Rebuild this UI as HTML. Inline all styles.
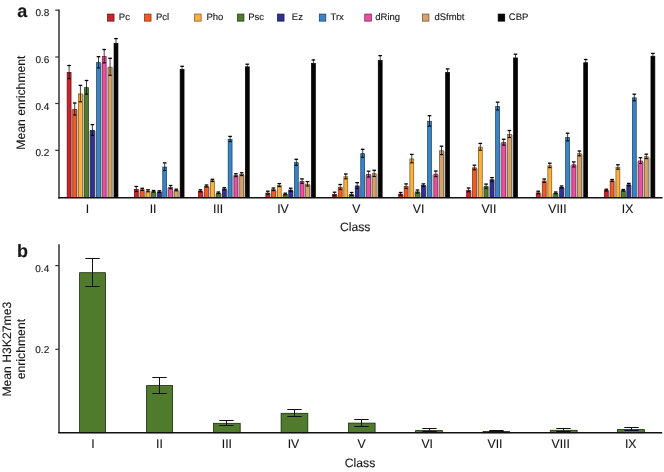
<!DOCTYPE html>
<html><head><meta charset="utf-8"><style>
html,body{margin:0;padding:0;background:#fff;}
body{width:664px;height:472px;overflow:hidden;}
svg{display:block;will-change:transform;font-family:"Liberation Sans",sans-serif;fill:#222;}
svg text{text-rendering:geometricPrecision;fill:#181818;stroke:#181818;stroke-width:0.12px;}
</style></head><body>
<svg width="664" height="472" viewBox="0 0 664 472">
<rect x="0" y="0" width="664" height="472" fill="#fff"/>
<rect x="71.40" y="110.00" width="1.00" height="87.70" fill="#c2c4c4"/>
<rect x="77.00" y="110.00" width="1.10" height="87.70" fill="#c2c4c4"/>
<rect x="82.70" y="94.60" width="1.50" height="103.10" fill="#c2c4c4"/>
<rect x="88.80" y="131.00" width="1.30" height="66.70" fill="#c2c4c4"/>
<rect x="94.70" y="131.00" width="1.50" height="66.70" fill="#c2c4c4"/>
<rect x="100.80" y="63.30" width="1.10" height="134.40" fill="#c2c4c4"/>
<rect x="106.50" y="67.80" width="1.30" height="129.90" fill="#c2c4c4"/>
<rect x="112.40" y="67.80" width="1.30" height="129.90" fill="#c2c4c4"/>
<rect x="67.15" y="72.45" width="3.90" height="125.25" fill="#cc2229" stroke="#5a0c10" stroke-width="0.7"/>
<rect x="72.75" y="109.35" width="3.90" height="88.35" fill="#f15a22" stroke="#7a2a0c" stroke-width="0.7"/>
<rect x="78.45" y="93.95" width="3.90" height="103.75" fill="#fbb040" stroke="#7a5518" stroke-width="0.7"/>
<rect x="84.55" y="87.65" width="3.90" height="110.05" fill="#4f7b2b" stroke="#1f3510" stroke-width="0.7"/>
<rect x="90.45" y="130.35" width="3.90" height="67.35" fill="#2e3192" stroke="#14163f" stroke-width="0.7"/>
<rect x="96.55" y="62.65" width="3.90" height="135.05" fill="#3a83c6" stroke="#183c5c" stroke-width="0.7"/>
<rect x="102.25" y="56.55" width="3.90" height="141.15" fill="#ec4ea2" stroke="#6e2149" stroke-width="0.7"/>
<rect x="108.15" y="67.15" width="3.90" height="130.55" fill="#d6a36b" stroke="#684e30" stroke-width="0.7"/>
<rect x="114.05" y="43.35" width="3.90" height="154.35" fill="#050505" stroke="#000000" stroke-width="0.7"/>
<line x1="69.10" y1="65.50" x2="69.10" y2="78.70" stroke="#111" stroke-width="0.8"/>
<line x1="67.30" y1="65.50" x2="70.90" y2="65.50" stroke="#000" stroke-width="1.3"/>
<line x1="67.50" y1="78.70" x2="70.70" y2="78.70" stroke="#000" stroke-width="1.1"/>
<line x1="74.70" y1="103.00" x2="74.70" y2="115.00" stroke="#111" stroke-width="0.8"/>
<line x1="72.90" y1="103.00" x2="76.50" y2="103.00" stroke="#000" stroke-width="1.3"/>
<line x1="73.10" y1="115.00" x2="76.30" y2="115.00" stroke="#000" stroke-width="1.1"/>
<line x1="80.40" y1="85.40" x2="80.40" y2="101.80" stroke="#111" stroke-width="0.8"/>
<line x1="78.60" y1="85.40" x2="82.20" y2="85.40" stroke="#000" stroke-width="1.3"/>
<line x1="78.80" y1="101.80" x2="82.00" y2="101.80" stroke="#000" stroke-width="1.1"/>
<line x1="86.50" y1="80.50" x2="86.50" y2="94.10" stroke="#111" stroke-width="0.8"/>
<line x1="84.70" y1="80.50" x2="88.30" y2="80.50" stroke="#000" stroke-width="1.3"/>
<line x1="84.90" y1="94.10" x2="88.10" y2="94.10" stroke="#000" stroke-width="1.1"/>
<line x1="92.40" y1="124.60" x2="92.40" y2="135.40" stroke="#111" stroke-width="0.8"/>
<line x1="90.60" y1="124.60" x2="94.20" y2="124.60" stroke="#000" stroke-width="1.3"/>
<line x1="90.80" y1="135.40" x2="94.00" y2="135.40" stroke="#000" stroke-width="1.1"/>
<line x1="98.50" y1="56.70" x2="98.50" y2="67.90" stroke="#111" stroke-width="0.8"/>
<line x1="96.70" y1="56.70" x2="100.30" y2="56.70" stroke="#000" stroke-width="1.3"/>
<line x1="96.90" y1="67.90" x2="100.10" y2="67.90" stroke="#000" stroke-width="1.1"/>
<line x1="104.20" y1="49.50" x2="104.20" y2="62.90" stroke="#111" stroke-width="0.8"/>
<line x1="102.40" y1="49.50" x2="106.00" y2="49.50" stroke="#000" stroke-width="1.3"/>
<line x1="102.60" y1="62.90" x2="105.80" y2="62.90" stroke="#000" stroke-width="1.1"/>
<line x1="110.10" y1="58.30" x2="110.10" y2="75.30" stroke="#111" stroke-width="0.8"/>
<line x1="108.30" y1="58.30" x2="111.90" y2="58.30" stroke="#000" stroke-width="1.3"/>
<line x1="108.50" y1="75.30" x2="111.70" y2="75.30" stroke="#000" stroke-width="1.1"/>
<line x1="116.00" y1="38.60" x2="116.00" y2="47.40" stroke="#111" stroke-width="0.8"/>
<line x1="114.20" y1="38.60" x2="117.80" y2="38.60" stroke="#000" stroke-width="1.3"/>
<line x1="114.40" y1="47.40" x2="117.60" y2="47.40" stroke="#000" stroke-width="1.1"/>
<rect x="138.60" y="190.40" width="1.30" height="7.30" fill="#c2c4c4"/>
<rect x="144.50" y="191.80" width="1.20" height="5.90" fill="#c2c4c4"/>
<rect x="150.30" y="192.30" width="1.00" height="5.40" fill="#c2c4c4"/>
<rect x="155.90" y="192.60" width="1.20" height="5.10" fill="#c2c4c4"/>
<rect x="161.70" y="192.60" width="0.70" height="5.10" fill="#c2c4c4"/>
<rect x="167.00" y="188.10" width="1.30" height="9.60" fill="#c2c4c4"/>
<rect x="172.90" y="191.00" width="1.00" height="6.70" fill="#c2c4c4"/>
<rect x="178.50" y="191.00" width="1.30" height="6.70" fill="#c2c4c4"/>
<rect x="134.35" y="189.35" width="3.90" height="8.35" fill="#cc2229" stroke="#5a0c10" stroke-width="0.7"/>
<rect x="140.25" y="189.75" width="3.90" height="7.95" fill="#f15a22" stroke="#7a2a0c" stroke-width="0.7"/>
<rect x="146.05" y="191.15" width="3.90" height="6.55" fill="#fbb040" stroke="#7a5518" stroke-width="0.7"/>
<rect x="151.65" y="191.65" width="3.90" height="6.05" fill="#4f7b2b" stroke="#1f3510" stroke-width="0.7"/>
<rect x="157.45" y="191.95" width="3.90" height="5.75" fill="#2e3192" stroke="#14163f" stroke-width="0.7"/>
<rect x="162.75" y="167.05" width="3.90" height="30.65" fill="#3a83c6" stroke="#183c5c" stroke-width="0.7"/>
<rect x="168.65" y="187.45" width="3.90" height="10.25" fill="#ec4ea2" stroke="#6e2149" stroke-width="0.7"/>
<rect x="174.25" y="190.35" width="3.90" height="7.35" fill="#d6a36b" stroke="#684e30" stroke-width="0.7"/>
<rect x="180.15" y="69.35" width="3.90" height="128.35" fill="#050505" stroke="#000000" stroke-width="0.7"/>
<line x1="136.30" y1="186.50" x2="136.30" y2="191.50" stroke="#111" stroke-width="0.8"/>
<line x1="134.50" y1="186.50" x2="138.10" y2="186.50" stroke="#000" stroke-width="1.3"/>
<line x1="134.70" y1="191.50" x2="137.90" y2="191.50" stroke="#000" stroke-width="1.1"/>
<line x1="142.20" y1="188.30" x2="142.20" y2="190.50" stroke="#111" stroke-width="0.8"/>
<line x1="140.40" y1="188.30" x2="144.00" y2="188.30" stroke="#000" stroke-width="1.3"/>
<line x1="140.60" y1="190.50" x2="143.80" y2="190.50" stroke="#000" stroke-width="1.1"/>
<line x1="148.00" y1="189.80" x2="148.00" y2="191.80" stroke="#111" stroke-width="0.8"/>
<line x1="146.20" y1="189.80" x2="149.80" y2="189.80" stroke="#000" stroke-width="1.3"/>
<line x1="146.40" y1="191.80" x2="149.60" y2="191.80" stroke="#000" stroke-width="1.1"/>
<line x1="153.60" y1="190.50" x2="153.60" y2="192.10" stroke="#111" stroke-width="0.8"/>
<line x1="151.80" y1="190.50" x2="155.40" y2="190.50" stroke="#000" stroke-width="1.3"/>
<line x1="152.00" y1="192.10" x2="155.20" y2="192.10" stroke="#000" stroke-width="1.1"/>
<line x1="159.40" y1="190.80" x2="159.40" y2="192.40" stroke="#111" stroke-width="0.8"/>
<line x1="157.60" y1="190.80" x2="161.20" y2="190.80" stroke="#000" stroke-width="1.3"/>
<line x1="157.80" y1="192.40" x2="161.00" y2="192.40" stroke="#000" stroke-width="1.1"/>
<line x1="164.70" y1="162.90" x2="164.70" y2="170.50" stroke="#111" stroke-width="0.8"/>
<line x1="162.90" y1="162.90" x2="166.50" y2="162.90" stroke="#000" stroke-width="1.3"/>
<line x1="163.10" y1="170.50" x2="166.30" y2="170.50" stroke="#000" stroke-width="1.1"/>
<line x1="170.60" y1="185.50" x2="170.60" y2="188.70" stroke="#111" stroke-width="0.8"/>
<line x1="168.80" y1="185.50" x2="172.40" y2="185.50" stroke="#000" stroke-width="1.3"/>
<line x1="169.00" y1="188.70" x2="172.20" y2="188.70" stroke="#000" stroke-width="1.1"/>
<line x1="176.20" y1="189.20" x2="176.20" y2="190.80" stroke="#111" stroke-width="0.8"/>
<line x1="174.40" y1="189.20" x2="178.00" y2="189.20" stroke="#000" stroke-width="1.3"/>
<line x1="174.60" y1="190.80" x2="177.80" y2="190.80" stroke="#000" stroke-width="1.1"/>
<line x1="182.10" y1="66.30" x2="182.10" y2="71.70" stroke="#111" stroke-width="0.8"/>
<line x1="180.30" y1="66.30" x2="183.90" y2="66.30" stroke="#000" stroke-width="1.3"/>
<line x1="180.50" y1="71.70" x2="183.70" y2="71.70" stroke="#000" stroke-width="1.1"/>
<rect x="202.70" y="191.80" width="1.50" height="5.90" fill="#c2c4c4"/>
<rect x="208.80" y="187.00" width="1.30" height="10.70" fill="#c2c4c4"/>
<rect x="214.70" y="193.80" width="1.40" height="3.90" fill="#c2c4c4"/>
<rect x="220.70" y="193.80" width="1.30" height="3.90" fill="#c2c4c4"/>
<rect x="226.60" y="189.60" width="1.20" height="8.10" fill="#c2c4c4"/>
<rect x="232.40" y="176.20" width="1.20" height="21.50" fill="#c2c4c4"/>
<rect x="238.20" y="176.20" width="1.20" height="21.50" fill="#c2c4c4"/>
<rect x="244.00" y="175.20" width="1.00" height="22.50" fill="#c2c4c4"/>
<rect x="198.45" y="191.15" width="3.90" height="6.55" fill="#cc2229" stroke="#5a0c10" stroke-width="0.7"/>
<rect x="204.55" y="186.35" width="3.90" height="11.35" fill="#f15a22" stroke="#7a2a0c" stroke-width="0.7"/>
<rect x="210.45" y="180.75" width="3.90" height="16.95" fill="#fbb040" stroke="#7a5518" stroke-width="0.7"/>
<rect x="216.45" y="193.15" width="3.90" height="4.55" fill="#4f7b2b" stroke="#1f3510" stroke-width="0.7"/>
<rect x="222.35" y="188.95" width="3.90" height="8.75" fill="#2e3192" stroke="#14163f" stroke-width="0.7"/>
<rect x="228.15" y="139.35" width="3.90" height="58.35" fill="#3a83c6" stroke="#183c5c" stroke-width="0.7"/>
<rect x="233.95" y="175.55" width="3.90" height="22.15" fill="#ec4ea2" stroke="#6e2149" stroke-width="0.7"/>
<rect x="239.75" y="174.55" width="3.90" height="23.15" fill="#d6a36b" stroke="#684e30" stroke-width="0.7"/>
<rect x="245.35" y="66.85" width="3.90" height="130.85" fill="#050505" stroke="#000000" stroke-width="0.7"/>
<line x1="200.40" y1="189.80" x2="200.40" y2="191.80" stroke="#111" stroke-width="0.8"/>
<line x1="198.60" y1="189.80" x2="202.20" y2="189.80" stroke="#000" stroke-width="1.3"/>
<line x1="198.80" y1="191.80" x2="202.00" y2="191.80" stroke="#000" stroke-width="1.1"/>
<line x1="206.50" y1="185.00" x2="206.50" y2="187.00" stroke="#111" stroke-width="0.8"/>
<line x1="204.70" y1="185.00" x2="208.30" y2="185.00" stroke="#000" stroke-width="1.3"/>
<line x1="204.90" y1="187.00" x2="208.10" y2="187.00" stroke="#000" stroke-width="1.1"/>
<line x1="212.40" y1="179.30" x2="212.40" y2="181.50" stroke="#111" stroke-width="0.8"/>
<line x1="210.60" y1="179.30" x2="214.20" y2="179.30" stroke="#000" stroke-width="1.3"/>
<line x1="210.80" y1="181.50" x2="214.00" y2="181.50" stroke="#000" stroke-width="1.1"/>
<line x1="218.40" y1="192.00" x2="218.40" y2="193.60" stroke="#111" stroke-width="0.8"/>
<line x1="216.60" y1="192.00" x2="220.20" y2="192.00" stroke="#000" stroke-width="1.3"/>
<line x1="216.80" y1="193.60" x2="220.00" y2="193.60" stroke="#000" stroke-width="1.1"/>
<line x1="224.30" y1="187.60" x2="224.30" y2="189.60" stroke="#111" stroke-width="0.8"/>
<line x1="222.50" y1="187.60" x2="226.10" y2="187.60" stroke="#000" stroke-width="1.3"/>
<line x1="222.70" y1="189.60" x2="225.90" y2="189.60" stroke="#000" stroke-width="1.1"/>
<line x1="230.10" y1="136.40" x2="230.10" y2="141.60" stroke="#111" stroke-width="0.8"/>
<line x1="228.30" y1="136.40" x2="231.90" y2="136.40" stroke="#000" stroke-width="1.3"/>
<line x1="228.50" y1="141.60" x2="231.70" y2="141.60" stroke="#000" stroke-width="1.1"/>
<line x1="235.90" y1="173.80" x2="235.90" y2="176.60" stroke="#111" stroke-width="0.8"/>
<line x1="234.10" y1="173.80" x2="237.70" y2="173.80" stroke="#000" stroke-width="1.3"/>
<line x1="234.30" y1="176.60" x2="237.50" y2="176.60" stroke="#000" stroke-width="1.1"/>
<line x1="241.70" y1="172.80" x2="241.70" y2="175.60" stroke="#111" stroke-width="0.8"/>
<line x1="239.90" y1="172.80" x2="243.50" y2="172.80" stroke="#000" stroke-width="1.3"/>
<line x1="240.10" y1="175.60" x2="243.30" y2="175.60" stroke="#000" stroke-width="1.1"/>
<line x1="247.30" y1="64.20" x2="247.30" y2="68.80" stroke="#111" stroke-width="0.8"/>
<line x1="245.50" y1="64.20" x2="249.10" y2="64.20" stroke="#000" stroke-width="1.3"/>
<line x1="245.70" y1="68.80" x2="248.90" y2="68.80" stroke="#000" stroke-width="1.1"/>
<rect x="270.10" y="193.70" width="1.00" height="4.00" fill="#c2c4c4"/>
<rect x="275.70" y="190.30" width="1.30" height="7.40" fill="#c2c4c4"/>
<rect x="281.60" y="195.00" width="1.40" height="2.70" fill="#c2c4c4"/>
<rect x="287.60" y="195.00" width="0.80" height="2.70" fill="#c2c4c4"/>
<rect x="293.00" y="190.70" width="1.00" height="7.00" fill="#c2c4c4"/>
<rect x="298.60" y="182.10" width="1.10" height="15.60" fill="#c2c4c4"/>
<rect x="304.30" y="184.80" width="0.90" height="12.90" fill="#c2c4c4"/>
<rect x="309.80" y="184.80" width="1.30" height="12.90" fill="#c2c4c4"/>
<rect x="265.85" y="193.05" width="3.90" height="4.65" fill="#cc2229" stroke="#5a0c10" stroke-width="0.7"/>
<rect x="271.45" y="189.65" width="3.90" height="8.05" fill="#f15a22" stroke="#7a2a0c" stroke-width="0.7"/>
<rect x="277.35" y="185.45" width="3.90" height="12.25" fill="#fbb040" stroke="#7a5518" stroke-width="0.7"/>
<rect x="283.35" y="194.35" width="3.90" height="3.35" fill="#4f7b2b" stroke="#1f3510" stroke-width="0.7"/>
<rect x="288.75" y="190.05" width="3.90" height="7.65" fill="#2e3192" stroke="#14163f" stroke-width="0.7"/>
<rect x="294.35" y="162.65" width="3.90" height="35.05" fill="#3a83c6" stroke="#183c5c" stroke-width="0.7"/>
<rect x="300.05" y="181.45" width="3.90" height="16.25" fill="#ec4ea2" stroke="#6e2149" stroke-width="0.7"/>
<rect x="305.55" y="184.15" width="3.90" height="13.55" fill="#d6a36b" stroke="#684e30" stroke-width="0.7"/>
<rect x="311.45" y="63.35" width="3.90" height="134.35" fill="#050505" stroke="#000000" stroke-width="0.7"/>
<line x1="267.80" y1="191.20" x2="267.80" y2="194.20" stroke="#111" stroke-width="0.8"/>
<line x1="266.00" y1="191.20" x2="269.60" y2="191.20" stroke="#000" stroke-width="1.3"/>
<line x1="266.20" y1="194.20" x2="269.40" y2="194.20" stroke="#000" stroke-width="1.1"/>
<line x1="273.40" y1="188.00" x2="273.40" y2="190.60" stroke="#111" stroke-width="0.8"/>
<line x1="271.60" y1="188.00" x2="275.20" y2="188.00" stroke="#000" stroke-width="1.3"/>
<line x1="271.80" y1="190.60" x2="275.00" y2="190.60" stroke="#000" stroke-width="1.1"/>
<line x1="279.30" y1="183.60" x2="279.30" y2="186.60" stroke="#111" stroke-width="0.8"/>
<line x1="277.50" y1="183.60" x2="281.10" y2="183.60" stroke="#000" stroke-width="1.3"/>
<line x1="277.70" y1="186.60" x2="280.90" y2="186.60" stroke="#000" stroke-width="1.1"/>
<line x1="285.30" y1="193.20" x2="285.30" y2="194.80" stroke="#111" stroke-width="0.8"/>
<line x1="283.50" y1="193.20" x2="287.10" y2="193.20" stroke="#000" stroke-width="1.3"/>
<line x1="283.70" y1="194.80" x2="286.90" y2="194.80" stroke="#000" stroke-width="1.1"/>
<line x1="290.70" y1="188.20" x2="290.70" y2="191.20" stroke="#111" stroke-width="0.8"/>
<line x1="288.90" y1="188.20" x2="292.50" y2="188.20" stroke="#000" stroke-width="1.3"/>
<line x1="289.10" y1="191.20" x2="292.30" y2="191.20" stroke="#000" stroke-width="1.1"/>
<line x1="296.30" y1="159.30" x2="296.30" y2="165.30" stroke="#111" stroke-width="0.8"/>
<line x1="294.50" y1="159.30" x2="298.10" y2="159.30" stroke="#000" stroke-width="1.3"/>
<line x1="294.70" y1="165.30" x2="297.90" y2="165.30" stroke="#000" stroke-width="1.1"/>
<line x1="302.00" y1="178.90" x2="302.00" y2="183.30" stroke="#111" stroke-width="0.8"/>
<line x1="300.20" y1="178.90" x2="303.80" y2="178.90" stroke="#000" stroke-width="1.3"/>
<line x1="300.40" y1="183.30" x2="303.60" y2="183.30" stroke="#000" stroke-width="1.1"/>
<line x1="307.50" y1="181.60" x2="307.50" y2="186.00" stroke="#111" stroke-width="0.8"/>
<line x1="305.70" y1="181.60" x2="309.30" y2="181.60" stroke="#000" stroke-width="1.3"/>
<line x1="305.90" y1="186.00" x2="309.10" y2="186.00" stroke="#000" stroke-width="1.1"/>
<line x1="313.40" y1="59.90" x2="313.40" y2="66.10" stroke="#111" stroke-width="0.8"/>
<line x1="311.60" y1="59.90" x2="315.20" y2="59.90" stroke="#000" stroke-width="1.3"/>
<line x1="311.80" y1="66.10" x2="315.00" y2="66.10" stroke="#000" stroke-width="1.1"/>
<rect x="336.80" y="195.00" width="1.10" height="2.70" fill="#c2c4c4"/>
<rect x="342.50" y="188.00" width="1.00" height="9.70" fill="#c2c4c4"/>
<rect x="348.10" y="195.00" width="1.20" height="2.70" fill="#c2c4c4"/>
<rect x="353.90" y="195.00" width="1.00" height="2.70" fill="#c2c4c4"/>
<rect x="359.50" y="186.60" width="0.90" height="11.10" fill="#c2c4c4"/>
<rect x="365.00" y="175.10" width="1.30" height="22.60" fill="#c2c4c4"/>
<rect x="370.90" y="175.10" width="1.00" height="22.60" fill="#c2c4c4"/>
<rect x="376.50" y="174.40" width="1.40" height="23.30" fill="#c2c4c4"/>
<rect x="332.55" y="194.35" width="3.90" height="3.35" fill="#cc2229" stroke="#5a0c10" stroke-width="0.7"/>
<rect x="338.25" y="187.35" width="3.90" height="10.35" fill="#f15a22" stroke="#7a2a0c" stroke-width="0.7"/>
<rect x="343.85" y="176.75" width="3.90" height="20.95" fill="#fbb040" stroke="#7a5518" stroke-width="0.7"/>
<rect x="349.65" y="194.35" width="3.90" height="3.35" fill="#4f7b2b" stroke="#1f3510" stroke-width="0.7"/>
<rect x="355.25" y="185.95" width="3.90" height="11.75" fill="#2e3192" stroke="#14163f" stroke-width="0.7"/>
<rect x="360.75" y="153.65" width="3.90" height="44.05" fill="#3a83c6" stroke="#183c5c" stroke-width="0.7"/>
<rect x="366.65" y="174.45" width="3.90" height="23.25" fill="#ec4ea2" stroke="#6e2149" stroke-width="0.7"/>
<rect x="372.25" y="173.75" width="3.90" height="23.95" fill="#d6a36b" stroke="#684e30" stroke-width="0.7"/>
<rect x="378.25" y="60.35" width="3.90" height="137.35" fill="#050505" stroke="#000000" stroke-width="0.7"/>
<line x1="334.50" y1="192.20" x2="334.50" y2="195.80" stroke="#111" stroke-width="0.8"/>
<line x1="332.70" y1="192.20" x2="336.30" y2="192.20" stroke="#000" stroke-width="1.3"/>
<line x1="332.90" y1="195.80" x2="336.10" y2="195.80" stroke="#000" stroke-width="1.1"/>
<line x1="340.20" y1="184.50" x2="340.20" y2="189.50" stroke="#111" stroke-width="0.8"/>
<line x1="338.40" y1="184.50" x2="342.00" y2="184.50" stroke="#000" stroke-width="1.3"/>
<line x1="338.60" y1="189.50" x2="341.80" y2="189.50" stroke="#000" stroke-width="1.1"/>
<line x1="345.80" y1="174.00" x2="345.80" y2="178.80" stroke="#111" stroke-width="0.8"/>
<line x1="344.00" y1="174.00" x2="347.60" y2="174.00" stroke="#000" stroke-width="1.3"/>
<line x1="344.20" y1="178.80" x2="347.40" y2="178.80" stroke="#000" stroke-width="1.1"/>
<line x1="351.60" y1="192.50" x2="351.60" y2="195.50" stroke="#111" stroke-width="0.8"/>
<line x1="349.80" y1="192.50" x2="353.40" y2="192.50" stroke="#000" stroke-width="1.3"/>
<line x1="350.00" y1="195.50" x2="353.20" y2="195.50" stroke="#000" stroke-width="1.1"/>
<line x1="357.20" y1="182.70" x2="357.20" y2="188.50" stroke="#111" stroke-width="0.8"/>
<line x1="355.40" y1="182.70" x2="359.00" y2="182.70" stroke="#000" stroke-width="1.3"/>
<line x1="355.60" y1="188.50" x2="358.80" y2="188.50" stroke="#000" stroke-width="1.1"/>
<line x1="362.70" y1="149.30" x2="362.70" y2="157.30" stroke="#111" stroke-width="0.8"/>
<line x1="360.90" y1="149.30" x2="364.50" y2="149.30" stroke="#000" stroke-width="1.3"/>
<line x1="361.10" y1="157.30" x2="364.30" y2="157.30" stroke="#000" stroke-width="1.1"/>
<line x1="368.60" y1="171.20" x2="368.60" y2="177.00" stroke="#111" stroke-width="0.8"/>
<line x1="366.80" y1="171.20" x2="370.40" y2="171.20" stroke="#000" stroke-width="1.3"/>
<line x1="367.00" y1="177.00" x2="370.20" y2="177.00" stroke="#000" stroke-width="1.1"/>
<line x1="374.20" y1="170.30" x2="374.20" y2="176.50" stroke="#111" stroke-width="0.8"/>
<line x1="372.40" y1="170.30" x2="376.00" y2="170.30" stroke="#000" stroke-width="1.3"/>
<line x1="372.60" y1="176.50" x2="375.80" y2="176.50" stroke="#000" stroke-width="1.1"/>
<line x1="380.20" y1="55.60" x2="380.20" y2="64.40" stroke="#111" stroke-width="0.8"/>
<line x1="378.40" y1="55.60" x2="382.00" y2="55.60" stroke="#000" stroke-width="1.3"/>
<line x1="378.60" y1="64.40" x2="381.80" y2="64.40" stroke="#000" stroke-width="1.1"/>
<rect x="402.90" y="194.80" width="0.90" height="2.90" fill="#c2c4c4"/>
<rect x="408.40" y="187.20" width="1.10" height="10.50" fill="#c2c4c4"/>
<rect x="414.10" y="192.50" width="1.10" height="5.20" fill="#c2c4c4"/>
<rect x="419.80" y="192.50" width="1.30" height="5.20" fill="#c2c4c4"/>
<rect x="425.70" y="186.20" width="1.50" height="11.50" fill="#c2c4c4"/>
<rect x="431.80" y="174.80" width="1.70" height="22.90" fill="#c2c4c4"/>
<rect x="438.10" y="174.80" width="1.10" height="22.90" fill="#c2c4c4"/>
<rect x="443.80" y="151.40" width="1.50" height="46.30" fill="#c2c4c4"/>
<rect x="398.65" y="194.15" width="3.90" height="3.55" fill="#cc2229" stroke="#5a0c10" stroke-width="0.7"/>
<rect x="404.15" y="186.55" width="3.90" height="11.15" fill="#f15a22" stroke="#7a2a0c" stroke-width="0.7"/>
<rect x="409.85" y="158.95" width="3.90" height="38.75" fill="#fbb040" stroke="#7a5518" stroke-width="0.7"/>
<rect x="415.55" y="191.85" width="3.90" height="5.85" fill="#4f7b2b" stroke="#1f3510" stroke-width="0.7"/>
<rect x="421.45" y="185.55" width="3.90" height="12.15" fill="#2e3192" stroke="#14163f" stroke-width="0.7"/>
<rect x="427.55" y="121.25" width="3.90" height="76.45" fill="#3a83c6" stroke="#183c5c" stroke-width="0.7"/>
<rect x="433.85" y="174.15" width="3.90" height="23.55" fill="#ec4ea2" stroke="#6e2149" stroke-width="0.7"/>
<rect x="439.55" y="150.75" width="3.90" height="46.95" fill="#d6a36b" stroke="#684e30" stroke-width="0.7"/>
<rect x="445.65" y="72.45" width="3.90" height="125.25" fill="#050505" stroke="#000000" stroke-width="0.7"/>
<line x1="400.60" y1="192.50" x2="400.60" y2="195.10" stroke="#111" stroke-width="0.8"/>
<line x1="398.80" y1="192.50" x2="402.40" y2="192.50" stroke="#000" stroke-width="1.3"/>
<line x1="399.00" y1="195.10" x2="402.20" y2="195.10" stroke="#000" stroke-width="1.1"/>
<line x1="406.10" y1="183.90" x2="406.10" y2="188.50" stroke="#111" stroke-width="0.8"/>
<line x1="404.30" y1="183.90" x2="407.90" y2="183.90" stroke="#000" stroke-width="1.3"/>
<line x1="404.50" y1="188.50" x2="407.70" y2="188.50" stroke="#000" stroke-width="1.1"/>
<line x1="411.80" y1="154.40" x2="411.80" y2="162.80" stroke="#111" stroke-width="0.8"/>
<line x1="410.00" y1="154.40" x2="413.60" y2="154.40" stroke="#000" stroke-width="1.3"/>
<line x1="410.20" y1="162.80" x2="413.40" y2="162.80" stroke="#000" stroke-width="1.1"/>
<line x1="417.50" y1="190.00" x2="417.50" y2="193.00" stroke="#111" stroke-width="0.8"/>
<line x1="415.70" y1="190.00" x2="419.30" y2="190.00" stroke="#000" stroke-width="1.3"/>
<line x1="415.90" y1="193.00" x2="419.10" y2="193.00" stroke="#000" stroke-width="1.1"/>
<line x1="423.40" y1="183.90" x2="423.40" y2="186.50" stroke="#111" stroke-width="0.8"/>
<line x1="421.60" y1="183.90" x2="425.20" y2="183.90" stroke="#000" stroke-width="1.3"/>
<line x1="421.80" y1="186.50" x2="425.00" y2="186.50" stroke="#000" stroke-width="1.1"/>
<line x1="429.50" y1="115.70" x2="429.50" y2="126.10" stroke="#111" stroke-width="0.8"/>
<line x1="427.70" y1="115.70" x2="431.30" y2="115.70" stroke="#000" stroke-width="1.3"/>
<line x1="427.90" y1="126.10" x2="431.10" y2="126.10" stroke="#000" stroke-width="1.1"/>
<line x1="435.80" y1="171.00" x2="435.80" y2="176.60" stroke="#111" stroke-width="0.8"/>
<line x1="434.00" y1="171.00" x2="437.60" y2="171.00" stroke="#000" stroke-width="1.3"/>
<line x1="434.20" y1="176.60" x2="437.40" y2="176.60" stroke="#000" stroke-width="1.1"/>
<line x1="441.50" y1="146.20" x2="441.50" y2="154.60" stroke="#111" stroke-width="0.8"/>
<line x1="439.70" y1="146.20" x2="443.30" y2="146.20" stroke="#000" stroke-width="1.3"/>
<line x1="439.90" y1="154.60" x2="443.10" y2="154.60" stroke="#000" stroke-width="1.1"/>
<line x1="447.60" y1="68.90" x2="447.60" y2="75.30" stroke="#111" stroke-width="0.8"/>
<line x1="445.80" y1="68.90" x2="449.40" y2="68.90" stroke="#000" stroke-width="1.3"/>
<line x1="446.00" y1="75.30" x2="449.20" y2="75.30" stroke="#000" stroke-width="1.1"/>
<rect x="470.90" y="190.90" width="1.20" height="6.80" fill="#c2c4c4"/>
<rect x="476.70" y="168.50" width="1.30" height="29.20" fill="#c2c4c4"/>
<rect x="482.60" y="187.20" width="1.20" height="10.50" fill="#c2c4c4"/>
<rect x="488.40" y="187.20" width="1.30" height="10.50" fill="#c2c4c4"/>
<rect x="494.30" y="180.40" width="1.00" height="17.30" fill="#c2c4c4"/>
<rect x="499.90" y="143.20" width="1.50" height="54.50" fill="#c2c4c4"/>
<rect x="506.00" y="143.20" width="1.10" height="54.50" fill="#c2c4c4"/>
<rect x="511.70" y="135.00" width="1.50" height="62.70" fill="#c2c4c4"/>
<rect x="466.65" y="190.25" width="3.90" height="7.45" fill="#cc2229" stroke="#5a0c10" stroke-width="0.7"/>
<rect x="472.45" y="167.85" width="3.90" height="29.85" fill="#f15a22" stroke="#7a2a0c" stroke-width="0.7"/>
<rect x="478.35" y="147.15" width="3.90" height="50.55" fill="#fbb040" stroke="#7a5518" stroke-width="0.7"/>
<rect x="484.15" y="186.55" width="3.90" height="11.15" fill="#4f7b2b" stroke="#1f3510" stroke-width="0.7"/>
<rect x="490.05" y="179.75" width="3.90" height="17.95" fill="#2e3192" stroke="#14163f" stroke-width="0.7"/>
<rect x="495.65" y="106.45" width="3.90" height="91.25" fill="#3a83c6" stroke="#183c5c" stroke-width="0.7"/>
<rect x="501.75" y="142.55" width="3.90" height="55.15" fill="#ec4ea2" stroke="#6e2149" stroke-width="0.7"/>
<rect x="507.45" y="134.35" width="3.90" height="63.35" fill="#d6a36b" stroke="#684e30" stroke-width="0.7"/>
<rect x="513.55" y="57.95" width="3.90" height="139.75" fill="#050505" stroke="#000000" stroke-width="0.7"/>
<line x1="468.60" y1="188.00" x2="468.60" y2="191.80" stroke="#111" stroke-width="0.8"/>
<line x1="466.80" y1="188.00" x2="470.40" y2="188.00" stroke="#000" stroke-width="1.3"/>
<line x1="467.00" y1="191.80" x2="470.20" y2="191.80" stroke="#000" stroke-width="1.1"/>
<line x1="474.40" y1="165.20" x2="474.40" y2="169.80" stroke="#111" stroke-width="0.8"/>
<line x1="472.60" y1="165.20" x2="476.20" y2="165.20" stroke="#000" stroke-width="1.3"/>
<line x1="472.80" y1="169.80" x2="476.00" y2="169.80" stroke="#000" stroke-width="1.1"/>
<line x1="480.30" y1="143.40" x2="480.30" y2="150.20" stroke="#111" stroke-width="0.8"/>
<line x1="478.50" y1="143.40" x2="482.10" y2="143.40" stroke="#000" stroke-width="1.3"/>
<line x1="478.70" y1="150.20" x2="481.90" y2="150.20" stroke="#000" stroke-width="1.1"/>
<line x1="486.10" y1="184.10" x2="486.10" y2="188.30" stroke="#111" stroke-width="0.8"/>
<line x1="484.30" y1="184.10" x2="487.90" y2="184.10" stroke="#000" stroke-width="1.3"/>
<line x1="484.50" y1="188.30" x2="487.70" y2="188.30" stroke="#000" stroke-width="1.1"/>
<line x1="492.00" y1="177.60" x2="492.00" y2="181.20" stroke="#111" stroke-width="0.8"/>
<line x1="490.20" y1="177.60" x2="493.80" y2="177.60" stroke="#000" stroke-width="1.3"/>
<line x1="490.40" y1="181.20" x2="493.60" y2="181.20" stroke="#000" stroke-width="1.1"/>
<line x1="497.60" y1="102.20" x2="497.60" y2="110.00" stroke="#111" stroke-width="0.8"/>
<line x1="495.80" y1="102.20" x2="499.40" y2="102.20" stroke="#000" stroke-width="1.3"/>
<line x1="496.00" y1="110.00" x2="499.20" y2="110.00" stroke="#000" stroke-width="1.1"/>
<line x1="503.70" y1="139.30" x2="503.70" y2="145.10" stroke="#111" stroke-width="0.8"/>
<line x1="501.90" y1="139.30" x2="505.50" y2="139.30" stroke="#000" stroke-width="1.3"/>
<line x1="502.10" y1="145.10" x2="505.30" y2="145.10" stroke="#000" stroke-width="1.1"/>
<line x1="509.40" y1="130.50" x2="509.40" y2="137.50" stroke="#111" stroke-width="0.8"/>
<line x1="507.60" y1="130.50" x2="511.20" y2="130.50" stroke="#000" stroke-width="1.3"/>
<line x1="507.80" y1="137.50" x2="511.00" y2="137.50" stroke="#000" stroke-width="1.1"/>
<line x1="515.50" y1="54.20" x2="515.50" y2="61.00" stroke="#111" stroke-width="0.8"/>
<line x1="513.70" y1="54.20" x2="517.30" y2="54.20" stroke="#000" stroke-width="1.3"/>
<line x1="513.90" y1="61.00" x2="517.10" y2="61.00" stroke="#000" stroke-width="1.1"/>
<rect x="540.50" y="193.50" width="1.40" height="4.20" fill="#c2c4c4"/>
<rect x="546.50" y="181.70" width="1.00" height="16.00" fill="#c2c4c4"/>
<rect x="552.10" y="193.90" width="1.30" height="3.80" fill="#c2c4c4"/>
<rect x="558.00" y="193.90" width="1.30" height="3.80" fill="#c2c4c4"/>
<rect x="563.90" y="188.00" width="1.40" height="9.70" fill="#c2c4c4"/>
<rect x="569.90" y="165.40" width="1.60" height="32.30" fill="#c2c4c4"/>
<rect x="576.10" y="165.40" width="1.00" height="32.30" fill="#c2c4c4"/>
<rect x="581.70" y="154.40" width="1.70" height="43.30" fill="#c2c4c4"/>
<rect x="536.25" y="192.85" width="3.90" height="4.85" fill="#cc2229" stroke="#5a0c10" stroke-width="0.7"/>
<rect x="542.25" y="181.05" width="3.90" height="16.65" fill="#f15a22" stroke="#7a2a0c" stroke-width="0.7"/>
<rect x="547.85" y="165.75" width="3.90" height="31.95" fill="#fbb040" stroke="#7a5518" stroke-width="0.7"/>
<rect x="553.75" y="193.25" width="3.90" height="4.45" fill="#4f7b2b" stroke="#1f3510" stroke-width="0.7"/>
<rect x="559.65" y="187.35" width="3.90" height="10.35" fill="#2e3192" stroke="#14163f" stroke-width="0.7"/>
<rect x="565.65" y="137.35" width="3.90" height="60.35" fill="#3a83c6" stroke="#183c5c" stroke-width="0.7"/>
<rect x="571.85" y="164.75" width="3.90" height="32.95" fill="#ec4ea2" stroke="#6e2149" stroke-width="0.7"/>
<rect x="577.45" y="153.75" width="3.90" height="43.95" fill="#d6a36b" stroke="#684e30" stroke-width="0.7"/>
<rect x="583.75" y="62.75" width="3.90" height="134.95" fill="#050505" stroke="#000000" stroke-width="0.7"/>
<line x1="538.20" y1="191.20" x2="538.20" y2="193.80" stroke="#111" stroke-width="0.8"/>
<line x1="536.40" y1="191.20" x2="540.00" y2="191.20" stroke="#000" stroke-width="1.3"/>
<line x1="536.60" y1="193.80" x2="539.80" y2="193.80" stroke="#000" stroke-width="1.1"/>
<line x1="544.20" y1="179.00" x2="544.20" y2="182.40" stroke="#111" stroke-width="0.8"/>
<line x1="542.40" y1="179.00" x2="546.00" y2="179.00" stroke="#000" stroke-width="1.3"/>
<line x1="542.60" y1="182.40" x2="545.80" y2="182.40" stroke="#000" stroke-width="1.1"/>
<line x1="549.80" y1="163.20" x2="549.80" y2="167.60" stroke="#111" stroke-width="0.8"/>
<line x1="548.00" y1="163.20" x2="551.60" y2="163.20" stroke="#000" stroke-width="1.3"/>
<line x1="548.20" y1="167.60" x2="551.40" y2="167.60" stroke="#000" stroke-width="1.1"/>
<line x1="555.70" y1="192.00" x2="555.70" y2="193.80" stroke="#111" stroke-width="0.8"/>
<line x1="553.90" y1="192.00" x2="557.50" y2="192.00" stroke="#000" stroke-width="1.3"/>
<line x1="554.10" y1="193.80" x2="557.30" y2="193.80" stroke="#000" stroke-width="1.1"/>
<line x1="561.60" y1="186.00" x2="561.60" y2="188.00" stroke="#111" stroke-width="0.8"/>
<line x1="559.80" y1="186.00" x2="563.40" y2="186.00" stroke="#000" stroke-width="1.3"/>
<line x1="560.00" y1="188.00" x2="563.20" y2="188.00" stroke="#000" stroke-width="1.1"/>
<line x1="567.60" y1="133.20" x2="567.60" y2="140.80" stroke="#111" stroke-width="0.8"/>
<line x1="565.80" y1="133.20" x2="569.40" y2="133.20" stroke="#000" stroke-width="1.3"/>
<line x1="566.00" y1="140.80" x2="569.20" y2="140.80" stroke="#000" stroke-width="1.1"/>
<line x1="573.80" y1="161.90" x2="573.80" y2="166.90" stroke="#111" stroke-width="0.8"/>
<line x1="572.00" y1="161.90" x2="575.60" y2="161.90" stroke="#000" stroke-width="1.3"/>
<line x1="572.20" y1="166.90" x2="575.40" y2="166.90" stroke="#000" stroke-width="1.1"/>
<line x1="579.40" y1="151.00" x2="579.40" y2="155.80" stroke="#111" stroke-width="0.8"/>
<line x1="577.60" y1="151.00" x2="581.20" y2="151.00" stroke="#000" stroke-width="1.3"/>
<line x1="577.80" y1="155.80" x2="581.00" y2="155.80" stroke="#000" stroke-width="1.1"/>
<line x1="585.70" y1="59.50" x2="585.70" y2="65.30" stroke="#111" stroke-width="0.8"/>
<line x1="583.90" y1="59.50" x2="587.50" y2="59.50" stroke="#000" stroke-width="1.3"/>
<line x1="584.10" y1="65.30" x2="587.30" y2="65.30" stroke="#000" stroke-width="1.1"/>
<rect x="608.60" y="191.10" width="1.20" height="6.60" fill="#c2c4c4"/>
<rect x="614.40" y="181.50" width="1.20" height="16.20" fill="#c2c4c4"/>
<rect x="620.20" y="191.30" width="0.80" height="6.40" fill="#c2c4c4"/>
<rect x="625.60" y="191.30" width="0.90" height="6.40" fill="#c2c4c4"/>
<rect x="631.10" y="185.50" width="0.90" height="12.20" fill="#c2c4c4"/>
<rect x="636.60" y="161.60" width="1.60" height="36.10" fill="#c2c4c4"/>
<rect x="642.80" y="161.60" width="1.20" height="36.10" fill="#c2c4c4"/>
<rect x="648.60" y="157.40" width="2.00" height="40.30" fill="#c2c4c4"/>
<rect x="604.35" y="190.45" width="3.90" height="7.25" fill="#cc2229" stroke="#5a0c10" stroke-width="0.7"/>
<rect x="610.15" y="180.85" width="3.90" height="16.85" fill="#f15a22" stroke="#7a2a0c" stroke-width="0.7"/>
<rect x="615.95" y="167.35" width="3.90" height="30.35" fill="#fbb040" stroke="#7a5518" stroke-width="0.7"/>
<rect x="621.35" y="190.65" width="3.90" height="7.05" fill="#4f7b2b" stroke="#1f3510" stroke-width="0.7"/>
<rect x="626.85" y="184.85" width="3.90" height="12.85" fill="#2e3192" stroke="#14163f" stroke-width="0.7"/>
<rect x="632.35" y="97.85" width="3.90" height="99.85" fill="#3a83c6" stroke="#183c5c" stroke-width="0.7"/>
<rect x="638.55" y="160.95" width="3.90" height="36.75" fill="#ec4ea2" stroke="#6e2149" stroke-width="0.7"/>
<rect x="644.35" y="156.75" width="3.90" height="40.95" fill="#d6a36b" stroke="#684e30" stroke-width="0.7"/>
<rect x="650.95" y="56.25" width="3.90" height="141.45" fill="#050505" stroke="#000000" stroke-width="0.7"/>
<line x1="606.30" y1="189.20" x2="606.30" y2="191.00" stroke="#111" stroke-width="0.8"/>
<line x1="604.50" y1="189.20" x2="608.10" y2="189.20" stroke="#000" stroke-width="1.3"/>
<line x1="604.70" y1="191.00" x2="607.90" y2="191.00" stroke="#000" stroke-width="1.1"/>
<line x1="612.10" y1="179.50" x2="612.10" y2="181.50" stroke="#111" stroke-width="0.8"/>
<line x1="610.30" y1="179.50" x2="613.90" y2="179.50" stroke="#000" stroke-width="1.3"/>
<line x1="610.50" y1="181.50" x2="613.70" y2="181.50" stroke="#000" stroke-width="1.1"/>
<line x1="617.90" y1="164.80" x2="617.90" y2="169.20" stroke="#111" stroke-width="0.8"/>
<line x1="616.10" y1="164.80" x2="619.70" y2="164.80" stroke="#000" stroke-width="1.3"/>
<line x1="616.30" y1="169.20" x2="619.50" y2="169.20" stroke="#000" stroke-width="1.1"/>
<line x1="623.30" y1="189.50" x2="623.30" y2="191.10" stroke="#111" stroke-width="0.8"/>
<line x1="621.50" y1="189.50" x2="625.10" y2="189.50" stroke="#000" stroke-width="1.3"/>
<line x1="621.70" y1="191.10" x2="624.90" y2="191.10" stroke="#000" stroke-width="1.1"/>
<line x1="628.80" y1="183.40" x2="628.80" y2="185.60" stroke="#111" stroke-width="0.8"/>
<line x1="627.00" y1="183.40" x2="630.60" y2="183.40" stroke="#000" stroke-width="1.3"/>
<line x1="627.20" y1="185.60" x2="630.40" y2="185.60" stroke="#000" stroke-width="1.1"/>
<line x1="634.30" y1="94.20" x2="634.30" y2="100.80" stroke="#111" stroke-width="0.8"/>
<line x1="632.50" y1="94.20" x2="636.10" y2="94.20" stroke="#000" stroke-width="1.3"/>
<line x1="632.70" y1="100.80" x2="635.90" y2="100.80" stroke="#000" stroke-width="1.1"/>
<line x1="640.50" y1="157.70" x2="640.50" y2="163.50" stroke="#111" stroke-width="0.8"/>
<line x1="638.70" y1="157.70" x2="642.30" y2="157.70" stroke="#000" stroke-width="1.3"/>
<line x1="638.90" y1="163.50" x2="642.10" y2="163.50" stroke="#000" stroke-width="1.1"/>
<line x1="646.30" y1="154.20" x2="646.30" y2="158.60" stroke="#111" stroke-width="0.8"/>
<line x1="644.50" y1="154.20" x2="648.10" y2="154.20" stroke="#000" stroke-width="1.3"/>
<line x1="644.70" y1="158.60" x2="647.90" y2="158.60" stroke="#000" stroke-width="1.1"/>
<line x1="652.90" y1="53.40" x2="652.90" y2="58.40" stroke="#111" stroke-width="0.8"/>
<line x1="651.10" y1="53.40" x2="654.70" y2="53.40" stroke="#000" stroke-width="1.3"/>
<line x1="651.30" y1="58.40" x2="654.50" y2="58.40" stroke="#000" stroke-width="1.1"/>
<rect x="79.60" y="272.70" width="25.90" height="160.00" fill="#507a2c" stroke="#1a280e" stroke-width="0.8"/>
<line x1="92.50" y1="258.50" x2="92.50" y2="286.50" stroke="#111" stroke-width="1"/>
<line x1="85.30" y1="258.50" x2="99.70" y2="258.50" stroke="#111" stroke-width="1"/>
<line x1="85.30" y1="286.50" x2="99.70" y2="286.50" stroke="#111" stroke-width="1"/>
<rect x="146.60" y="385.60" width="26.00" height="47.10" fill="#507a2c" stroke="#1a280e" stroke-width="0.8"/>
<line x1="159.50" y1="377.50" x2="159.50" y2="393.50" stroke="#111" stroke-width="1"/>
<line x1="152.30" y1="377.50" x2="166.70" y2="377.50" stroke="#111" stroke-width="1"/>
<line x1="152.30" y1="393.50" x2="166.70" y2="393.50" stroke="#111" stroke-width="1"/>
<rect x="213.50" y="423.30" width="26.70" height="9.40" fill="#507a2c" stroke="#1a280e" stroke-width="0.8"/>
<line x1="226.50" y1="420.50" x2="226.50" y2="425.50" stroke="#111" stroke-width="1"/>
<line x1="219.30" y1="420.50" x2="233.70" y2="420.50" stroke="#111" stroke-width="1"/>
<line x1="219.30" y1="425.50" x2="233.70" y2="425.50" stroke="#111" stroke-width="1"/>
<rect x="281.10" y="413.30" width="26.70" height="19.40" fill="#507a2c" stroke="#1a280e" stroke-width="0.8"/>
<line x1="294.50" y1="409.50" x2="294.50" y2="416.50" stroke="#111" stroke-width="1"/>
<line x1="287.30" y1="409.50" x2="301.70" y2="409.50" stroke="#111" stroke-width="1"/>
<line x1="287.30" y1="416.50" x2="301.70" y2="416.50" stroke="#111" stroke-width="1"/>
<rect x="348.50" y="423.10" width="26.60" height="9.60" fill="#507a2c" stroke="#1a280e" stroke-width="0.8"/>
<line x1="361.50" y1="419.50" x2="361.50" y2="426.50" stroke="#111" stroke-width="1"/>
<line x1="354.30" y1="419.50" x2="368.70" y2="419.50" stroke="#111" stroke-width="1"/>
<line x1="354.30" y1="426.50" x2="368.70" y2="426.50" stroke="#111" stroke-width="1"/>
<rect x="415.60" y="430.60" width="26.80" height="2.10" fill="#507a2c" stroke="#1a280e" stroke-width="0.8"/>
<line x1="429.50" y1="428.50" x2="429.50" y2="431.50" stroke="#111" stroke-width="1"/>
<line x1="422.30" y1="428.50" x2="436.70" y2="428.50" stroke="#111" stroke-width="1"/>
<line x1="422.30" y1="431.50" x2="436.70" y2="431.50" stroke="#111" stroke-width="1"/>
<rect x="483.10" y="431.40" width="26.40" height="1.30" fill="#507a2c" stroke="#1a280e" stroke-width="0.8"/>
<line x1="496.50" y1="430.50" x2="496.50" y2="431.50" stroke="#111" stroke-width="1"/>
<line x1="489.30" y1="430.50" x2="503.70" y2="430.50" stroke="#111" stroke-width="1"/>
<line x1="489.30" y1="431.50" x2="503.70" y2="431.50" stroke="#111" stroke-width="1"/>
<rect x="550.30" y="430.30" width="26.80" height="2.40" fill="#507a2c" stroke="#1a280e" stroke-width="0.8"/>
<line x1="563.50" y1="428.50" x2="563.50" y2="431.50" stroke="#111" stroke-width="1"/>
<line x1="556.30" y1="428.50" x2="570.70" y2="428.50" stroke="#111" stroke-width="1"/>
<line x1="556.30" y1="431.50" x2="570.70" y2="431.50" stroke="#111" stroke-width="1"/>
<rect x="617.60" y="429.60" width="26.80" height="3.10" fill="#507a2c" stroke="#1a280e" stroke-width="0.8"/>
<line x1="631.50" y1="427.50" x2="631.50" y2="430.50" stroke="#111" stroke-width="1"/>
<line x1="624.30" y1="427.50" x2="638.70" y2="427.50" stroke="#111" stroke-width="1"/>
<line x1="624.30" y1="430.50" x2="638.70" y2="430.50" stroke="#111" stroke-width="1"/>
<line x1="59" y1="9.6" x2="59" y2="198.4" stroke="#333" stroke-width="1.5"/>
<line x1="55.2" y1="10.2" x2="59" y2="10.2" stroke="#333" stroke-width="1.2"/>
<line x1="55.2" y1="57.0" x2="59" y2="57.0" stroke="#333" stroke-width="1.2"/>
<line x1="55.2" y1="103.5" x2="59" y2="103.5" stroke="#333" stroke-width="1.2"/>
<line x1="55.2" y1="150.3" x2="59" y2="150.3" stroke="#333" stroke-width="1.2"/>
<line x1="58.3" y1="197.7" x2="662.5" y2="197.7" stroke="#111" stroke-width="1.5"/>
<line x1="59" y1="244.3" x2="59" y2="433" stroke="#333" stroke-width="1.5"/>
<line x1="55.3" y1="265.6" x2="59" y2="265.6" stroke="#333" stroke-width="1.2"/>
<line x1="55.3" y1="349.3" x2="59" y2="349.3" stroke="#333" stroke-width="1.2"/>
<line x1="58.3" y1="432.7" x2="662.2" y2="432.7" stroke="#111" stroke-width="1.5"/>
<text x="17.3" y="16.7" font-size="18" text-anchor="start" font-weight="bold" >a</text>
<text x="17.1" y="257.1" font-size="18" text-anchor="start" font-weight="bold" >b</text>
<text transform="translate(49.4,16.1)" font-size="10" text-anchor="end">0.8</text>
<text transform="translate(49.4,63.2)" font-size="10" text-anchor="end">0.6</text>
<text transform="translate(49.4,109.8)" font-size="10" text-anchor="end">0.4</text>
<text transform="translate(49.4,156.0)" font-size="10" text-anchor="end">0.2</text>
<text transform="translate(49.2,272.0)" font-size="10" text-anchor="end">0.4</text>
<text transform="translate(49.2,352.7)" font-size="10" text-anchor="end">0.2</text>
<text transform="translate(24.8,102.6) rotate(-90)" font-size="12.2" text-anchor="middle">Mean enrichment</text>
<text transform="translate(11.1,349.2) rotate(-90)" font-size="12.2" text-anchor="middle">Mean H3K27me3</text>
<text transform="translate(25.4,349.1) rotate(-90)" font-size="12.2" text-anchor="middle">enrichment</text>
<text x="87.5" y="212.8" font-size="12.2" text-anchor="middle" font-weight="normal" >I</text>
<text x="153.1" y="212.8" font-size="12.2" text-anchor="middle" font-weight="normal" >II</text>
<text x="218.1" y="212.8" font-size="12.2" text-anchor="middle" font-weight="normal" >III</text>
<text x="282.9" y="212.8" font-size="12.2" text-anchor="middle" font-weight="normal" >IV</text>
<text x="356.3" y="212.8" font-size="12.2" text-anchor="middle" font-weight="normal" >V</text>
<text x="418.6" y="212.8" font-size="12.2" text-anchor="middle" font-weight="normal" >VI</text>
<text x="488.9" y="212.8" font-size="12.2" text-anchor="middle" font-weight="normal" >VII</text>
<text x="557.4" y="212.8" font-size="12.2" text-anchor="middle" font-weight="normal" >VIII</text>
<text x="627.6" y="212.8" font-size="12.2" text-anchor="middle" font-weight="normal" >IX</text>
<text x="355.2" y="230.5" font-size="12.2" text-anchor="middle" font-weight="normal" >Class</text>
<text x="93.0" y="447.5" font-size="12.2" text-anchor="middle" font-weight="normal" >I</text>
<text x="159.5" y="447.5" font-size="12.2" text-anchor="middle" font-weight="normal" >II</text>
<text x="226.9" y="447.5" font-size="12.2" text-anchor="middle" font-weight="normal" >III</text>
<text x="293.4" y="447.5" font-size="12.2" text-anchor="middle" font-weight="normal" >IV</text>
<text x="361.5" y="447.5" font-size="12.2" text-anchor="middle" font-weight="normal" >V</text>
<text x="427.25" y="447.5" font-size="12.2" text-anchor="middle" font-weight="normal" >VI</text>
<text x="495.0" y="447.5" font-size="12.2" text-anchor="middle" font-weight="normal" >VII</text>
<text x="560.75" y="447.5" font-size="12.2" text-anchor="middle" font-weight="normal" >VIII</text>
<text x="630.75" y="447.5" font-size="12.2" text-anchor="middle" font-weight="normal" >IX</text>
<text x="360.0" y="467.2" font-size="12.2" text-anchor="middle" font-weight="normal" >Class</text>
<rect x="107.45" y="14.05" width="6.6" height="7.1" fill="#cc2229" stroke="#5a0c10" stroke-width="0.7"/>
<text x="118.8" y="20.45" font-size="9.5" text-anchor="start" font-weight="normal" >Pc</text>
<rect x="144.45" y="14.05" width="6.6" height="7.1" fill="#f15a22" stroke="#7a2a0c" stroke-width="0.7"/>
<text x="156.0" y="20.45" font-size="9.5" text-anchor="start" font-weight="normal" >Pcl</text>
<rect x="194.55" y="14.05" width="6.6" height="7.1" fill="#fbb040" stroke="#7a5518" stroke-width="0.7"/>
<text x="206.4" y="20.45" font-size="9.5" text-anchor="start" font-weight="normal" >Pho</text>
<rect x="237.35" y="14.05" width="6.6" height="7.1" fill="#4f7b2b" stroke="#1f3510" stroke-width="0.7"/>
<text x="248.2" y="20.45" font-size="9.5" text-anchor="start" font-weight="normal" >Psc</text>
<rect x="277.45" y="14.05" width="6.6" height="7.1" fill="#2e3192" stroke="#14163f" stroke-width="0.7"/>
<text x="291.8" y="20.45" font-size="9.5" text-anchor="start" font-weight="normal" >Ez</text>
<rect x="319.25" y="14.05" width="6.6" height="7.1" fill="#3a83c6" stroke="#183c5c" stroke-width="0.7"/>
<text x="330.5" y="20.45" font-size="9.5" text-anchor="start" font-weight="normal" >Trx</text>
<rect x="364.75" y="14.05" width="6.6" height="7.1" fill="#ec4ea2" stroke="#6e2149" stroke-width="0.7"/>
<text x="375.3" y="20.45" font-size="9.5" text-anchor="start" font-weight="normal" >dRing</text>
<rect x="422.35" y="14.05" width="6.6" height="7.1" fill="#d6a36b" stroke="#684e30" stroke-width="0.7"/>
<text x="434.4" y="20.45" font-size="9.5" text-anchor="start" font-weight="normal" >dSfmbt</text>
<rect x="498.15" y="14.05" width="6.6" height="7.1" fill="#050505" stroke="#000000" stroke-width="0.7"/>
<text x="508.8" y="20.45" font-size="9.5" text-anchor="start" font-weight="normal" >CBP</text>
</svg>
</body></html>
